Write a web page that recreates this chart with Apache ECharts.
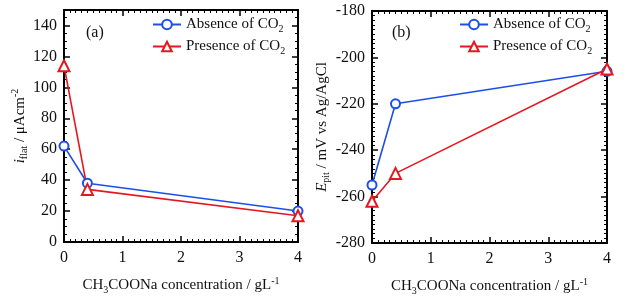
<!DOCTYPE html>
<html>
<head>
<meta charset="utf-8">
<script src="https://cdn.jsdelivr.net/npm/echarts@6/dist/echarts.min.js"></script>
<style>html,body{margin:0;padding:0;background:#fff}#c{width:629px;height:301px}</style>
</head>
<body>
<div id="c"></div>
<script>
// Concentrations (g/L)
var conc = [0, 0.4, 4];
// Panel (a): i_flat (uA/cm2)
var iflatAbsence = [62, 38, 20];
var iflatPresence = [114, 34, 17];
// Panel (b): E_pit (mV vs Ag/AgCl)
var epitAbsence = [-255, -220, -206];
var epitPresence = [-262, -250, -205];
var seriesNames = ['Absence of CO2', 'Presence of CO2'];

var FONT = 'Liberation Serif';
var BLUE = '#1d4fe6', RED = '#e5171e';

function pairs(xs, ys) { return xs.map(function (x, i) { return [x, ys[i]]; }); }

function rich(size) {
  return {
    it: { fontFamily: FONT, fontSize: size, fontStyle: 'italic', color: '#111' },
    sub: { fontFamily: FONT, fontSize: size - 5, color: '#111', padding: [9, 0, 0, 0] },
    sup: { fontFamily: FONT, fontSize: size - 5, color: '#111', padding: [0, 0, 9, 0] },
    n: { fontFamily: FONT, fontSize: size, color: '#111' }
  };
}

function xAxisMain(grid) {
  return {
    type: 'value', gridIndex: grid, min: 0, max: 4, interval: 1, position: 'bottom',
    name: '{n|CH}{sub|3}{n|COONa concentration / gL}{sup|-1}',
    nameLocation: 'middle', nameGap: 34,
    nameTextStyle: { rich: rich(15) },
    axisLine: { onZero: false, lineStyle: { color: '#000', width: 2 } },
    axisTick: { inside: true, length: 6, lineStyle: { color: '#000', width: 1.5 } },
    minorTick: { show: true, splitNumber: 10, length: 3, lineStyle: { color: '#000', width: 1 } },
    axisLabel: { fontFamily: FONT, fontSize: 16, color: '#111', margin: 8 },
    splitLine: { show: false }
  };
}
function xAxisTop(grid) {
  return {
    type: 'value', gridIndex: grid, min: 0, max: 4, interval: 1, position: 'top',
    axisLine: { onZero: false, lineStyle: { color: '#000', width: 2 } },
    axisTick: { inside: true, length: 6, lineStyle: { color: '#000', width: 1.5 } },
    minorTick: { show: true, splitNumber: 10, length: 3, lineStyle: { color: '#000', width: 1 } },
    axisLabel: { show: false }, splitLine: { show: false }
  };
}
function yAxisDef(grid, pos, min, max, minorSplit, show, showMax, name, gap) {
  var a = {
    type: 'value', gridIndex: grid, min: min, max: max, interval: 20, position: pos,
    axisLine: { onZero: false, lineStyle: { color: '#000', width: 2 } },
    axisTick: { inside: true, length: 6, lineStyle: { color: '#000', width: 1.5 } },
    minorTick: { show: true, splitNumber: minorSplit, length: 3, lineStyle: { color: '#000', width: 1 } },
    axisLabel: { show: show, fontFamily: FONT, fontSize: 16, color: '#111', margin: 7, showMaxLabel: showMax,
      formatter: function (v) { return String(v); } },
    splitLine: { show: false }
  };
  if (name) {
    a.name = name; a.nameLocation = 'middle'; a.nameGap = gap; a.nameRotate = 90;
    a.nameTextStyle = { rich: rich(15) };
  }
  return a;
}

function lineSeries(name, xi, yi, data, color, symbol, size) {
  return {
    name: name, type: 'line', xAxisIndex: xi, yAxisIndex: yi, data: data,
    symbol: symbol, symbolSize: size, clip: false, z: 5,
    lineStyle: { color: color, width: 1.6 },
    itemStyle: { color: color, borderColor: color, borderWidth: 1.6 }
  };
}

function legendDef(left) {
  return {
    orient: 'vertical', left: left, top: 17, padding: 0, itemWidth: 28, itemHeight: 12, itemGap: 5,
    data: seriesNames,
    formatter: function (n) { return '{n|' + n.replace('CO2', 'CO}{sub|2}'); },
    textStyle: { rich: rich(15), padding: [0, 0, 0, 0] }
  };
}

var option = {
  backgroundColor: '#fff',
  animation: false,
  grid: [
    { left: 64, right: 331, top: 10, bottom: 59, show: false },
    { left: 372, right: 22, top: 11, bottom: 56, show: false }
  ],
  legend: [legendDef(152), legendDef(459)],
  xAxis: [xAxisMain(0), xAxisTop(0), xAxisMain(1), xAxisTop(1)],
  yAxis: [
    yAxisDef(0, 'left', 0, 150, 4, true, false, '{it|i}{sub|flat}{n| / μAcm}{sup|-2}', 34),
    yAxisDef(0, 'right', 0, 150, 4, false, false),
    yAxisDef(1, 'left', -280, -180, 10, true, true, '{it|E}{sub|pit}{n| / mV vs Ag/AgCl}', 36),
    yAxisDef(1, 'right', -280, -180, 10, false, false)
  ],
  graphic: [
    { type: 'text', left: 86, top: 25, style: { text: '(a)', font: '16px "Liberation Serif"', fill: '#111' } },
    { type: 'text', left: 392, top: 25, style: { text: '(b)', font: '16px "Liberation Serif"', fill: '#111' } }
  ],
  series: [
    lineSeries(seriesNames[0], 0, 0, pairs(conc, iflatAbsence), BLUE, 'emptyCircle', 9),
    lineSeries(seriesNames[1], 0, 0, pairs(conc, iflatPresence), RED, 'emptyTriangle', 11),
    lineSeries(seriesNames[0], 2, 2, pairs(conc, epitAbsence), BLUE, 'emptyCircle', 9),
    lineSeries(seriesNames[1], 2, 2, pairs(conc, epitPresence), RED, 'emptyTriangle', 11)
  ]
};
echarts.init(document.getElementById('c')).setOption(option);
</script>
</body>
</html>
